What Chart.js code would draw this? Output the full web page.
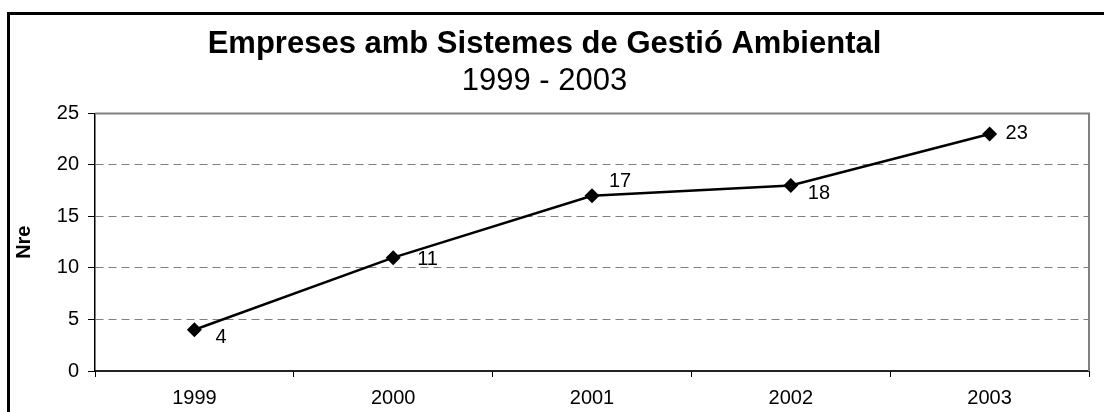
<!DOCTYPE html>
<html>
<head>
<meta charset="utf-8">
<script src="https://cdn.jsdelivr.net/npm/chart.js@4/dist/chart.umd.min.js"></script>
<style>
  body { margin: 0; background: #fff; }
</style>
</head>
<body>
<canvas id="myChart" width="1104" height="412"></canvas>
<script>
const years = ['1999', '2000', '2001', '2002', '2003'];
const empreses = [4, 11, 17, 18, 23];
const yTicks = [0, 5, 10, 15, 20, 25];

// where each value label sits, relative to its point
const labelDx = [21, 24, 17, 17, 16];
const labelDy = [8, 2, -14, 8, -1];

const FONT = "'Liberation Sans', Arial, sans-serif";

// outer frame + gray top/right edge of the plot area
const framePlugin = {
  id: 'frame',
  afterDraw(chart) {
    const c = chart.ctx, a = chart.chartArea;
    c.save();
    c.fillStyle = '#000';
    c.fillRect(7, 12, 1097, 3);
    c.fillRect(7, 12, 3, 400);
    c.strokeStyle = '#808080';
    c.lineWidth = 2;
    c.beginPath();
    c.moveTo(a.left, a.top);
    c.lineTo(a.right, a.top);
    c.lineTo(a.right, a.bottom);
    c.stroke();
    c.restore();
  }
};

const valueLabels = {
  id: 'valueLabels',
  afterDatasetsDraw(chart) {
    const c = chart.ctx;
    const meta = chart.getDatasetMeta(0);
    c.save();
    c.font = '20px ' + FONT;
    c.fillStyle = '#000';
    c.textAlign = 'left';
    c.textBaseline = 'middle';
    meta.data.forEach((pt, i) => {
      c.fillText(String(empreses[i]), pt.x + labelDx[i], pt.y + labelDy[i]);
    });
    c.restore();
  }
};

const data = {
  labels: years,
  datasets: [{
    label: 'Nre',
    data: empreses,
    borderColor: '#000',
    backgroundColor: '#000',
    borderWidth: 2.5,
    pointStyle: 'rectRot',
    pointRadius: 7.5,
    pointBorderWidth: 0,
    pointBackgroundColor: '#000',
    tension: 0
  }]
};

const config = {
  type: 'line',
  data,
  plugins: [framePlugin, valueLabels],
  options: {
    responsive: false,
    animation: false,
    layout: { padding: { left: 0, right: 15, top: 0, bottom: 0 } },
    plugins: {
      legend: { display: false },
      tooltip: { enabled: false },
      title: {
        display: true,
        text: 'Empreses amb Sistemes de Gestió Ambiental',
        color: '#000',
        font: { family: FONT, size: 31, weight: 'bold' },
        padding: { top: 26, bottom: 0 }
      },
      subtitle: {
        display: true,
        text: '1999 - 2003',
        color: '#000',
        font: { family: FONT, size: 31 },
        padding: { top: 0, bottom: 13 }
      }
    },
    scales: {
      x: {
        offset: true,
        grid: {
          offset: true,
          drawOnChartArea: false,
          drawTicks: true,
          tickLength: 6,
          tickColor: '#000',
          color: '#000'
        },
        border: { color: '#222', width: 2 },
        ticks: { color: '#000', padding: 9, font: { family: FONT, size: 20 }, maxRotation: 0 },
        afterFit(scale) { scale.height = 41; }
      },
      y: {
        min: 0,
        max: 25,
        afterBuildTicks(scale) { scale.ticks = yTicks.map(v => ({ value: v })); },
        grid: {
          color: ctx => (ctx.tick && (ctx.tick.value === 0 || ctx.tick.value === 25)) ? 'rgba(0,0,0,0)' : '#808080',
          lineWidth: 1,
          tickLength: 7,
          tickColor: '#000'
        },
        border: { color: '#000', width: 1.5, dash: [8, 5] },
        ticks: { color: '#000', padding: 9, font: { family: FONT, size: 20 } },
        title: {
          display: true,
          text: 'Nre',
          color: '#000',
          font: { family: FONT, size: 20, weight: 'bold' },
          padding: { top: 12, bottom: 0 }
        },
        afterFit(scale) { scale.width = 95; }
      }
    }
  }
};

var myChart = new Chart(document.getElementById('myChart').getContext('2d'), config);
</script>
</body>
</html>
